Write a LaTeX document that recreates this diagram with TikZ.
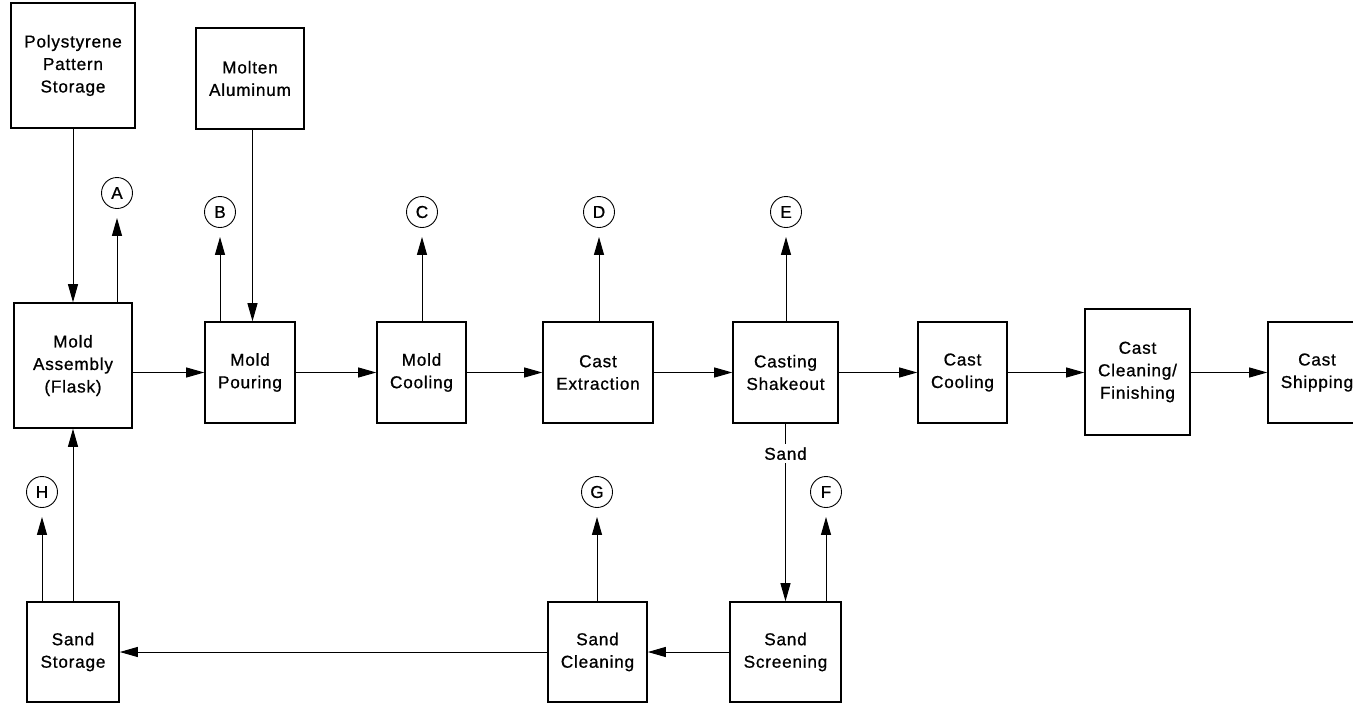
\documentclass[tikz,border=0pt]{standalone}
\usepackage{fontspec}
\setmainfont{Liberation Sans}[LetterSpace=4.5,FakeBold=0.8]
\usetikzlibrary{arrows.meta}
\begin{document}
\begin{tikzpicture}[x=1pt,y=-1pt,
  txt/.style={font=\fontsize{17.2}{22.5}\selectfont},
  box/.style={txt, draw, line width=1.6pt, inner sep=0pt, align=center, minimum height=101pt},
  lbl/.style={txt, draw, circle, line width=0.9pt, minimum size=31pt, inner sep=0pt},
  arr/.style={line width=1pt, -{Triangle[length=18pt,width=10pt]}},
  outarr/.style={arr, shorten >=9pt}]
\clip (0,0) rectangle (1353,705);
\fill[white] (0,0) rectangle (1353,705);
% boxes
\node[box, minimum width=124pt, minimum height=125pt] (poly) at (73,65.5) {Polystyrene\\Pattern\\Storage};
\node[box, minimum width=108pt] (molten) at (250,78.5) {Molten\\Aluminum};
\node[box, minimum width=118pt, minimum height=125pt] (assembly) at (73,365.5) {Mold\\Assembly\\(Flask)};
\node[box, minimum width=90pt] (pouring) at (250,372.5) {Mold\\Pouring};
\node[box, minimum width=89pt] (moldcool) at (421.5,372.5) {Mold\\Cooling};
\node[box, minimum width=110pt] (extraction) at (598,372.5) {Cast\\Extraction};
\node[box, minimum width=105pt] (shakeout) at (785.5,372.5) {Casting\\Shakeout};
\node[box, minimum width=89pt] (castcool) at (962.5,372.5) {Cast\\Cooling};
\node[box, minimum width=105pt, minimum height=126pt] (finishing) at (1137.5,372) {Cast\\Cleaning/\\Finishing};
\node[box, minimum width=98pt] (shipping) at (1317,372.5) {Cast\\Shipping};
\node[box, minimum width=92pt, minimum height=100pt] (sandstorage) at (73,652) {Sand\\Storage};
\node[box, minimum width=99pt, minimum height=100pt] (sandcleaning) at (597.5,652) {Sand\\Cleaning};
\node[box, minimum width=111pt, minimum height=100pt] (sandscreening) at (785.5,652) {Sand\\Screening};
% emission points
\node[lbl] (A) at (117,193) {A};
\node[lbl] (B) at (220,212) {B};
\node[lbl] (C) at (422,212) {C};
\node[lbl] (D) at (599,212) {D};
\node[lbl] (E) at (786,212) {E};
\node[lbl] (F) at (826,492) {F};
\node[lbl] (G) at (597,492) {G};
\node[lbl] (H) at (42,492) {H};
% inputs
\draw[arr] (poly) -- (assembly);
\draw[arr] ([xshift=2.5pt]molten.south) -- ([xshift=2.5pt]pouring.north);
\draw[arr] (sandstorage) -- (assembly);
% main line
\draw[arr] (assembly.east |- pouring) -- (pouring.west);
\draw[arr] (pouring) -- (moldcool);
\draw[arr] (moldcool) -- (extraction);
\draw[arr] (extraction) -- (shakeout);
\draw[arr] (shakeout) -- (castcool);
\draw[arr] (castcool) -- (finishing.west |- castcool);
\draw[arr] (finishing.east |- shipping) -- (shipping);
% sand loop
\draw[arr] (shakeout) -- node[txt, pos=0.168, fill=white] (sandlbl) {Sand} (sandscreening);
\draw[arr] (sandscreening) -- (sandcleaning);
\draw[arr] (sandcleaning) -- (sandstorage);
% emissions
\draw[outarr] (A |- assembly.north) -- (A.south);
\draw[outarr] (B |- pouring.north) -- (B.south);
\draw[outarr] (C |- moldcool.north) -- (C.south);
\draw[outarr] (D |- extraction.north) -- (D.south);
\draw[outarr] (E |- shakeout.north) -- (E.south);
\draw[outarr] (F |- sandscreening.north) -- (F.south);
\draw[outarr] (G |- sandcleaning.north) -- (G.south);
\draw[outarr] (H |- sandstorage.north) -- (H.south);
\end{tikzpicture}
\end{document}
